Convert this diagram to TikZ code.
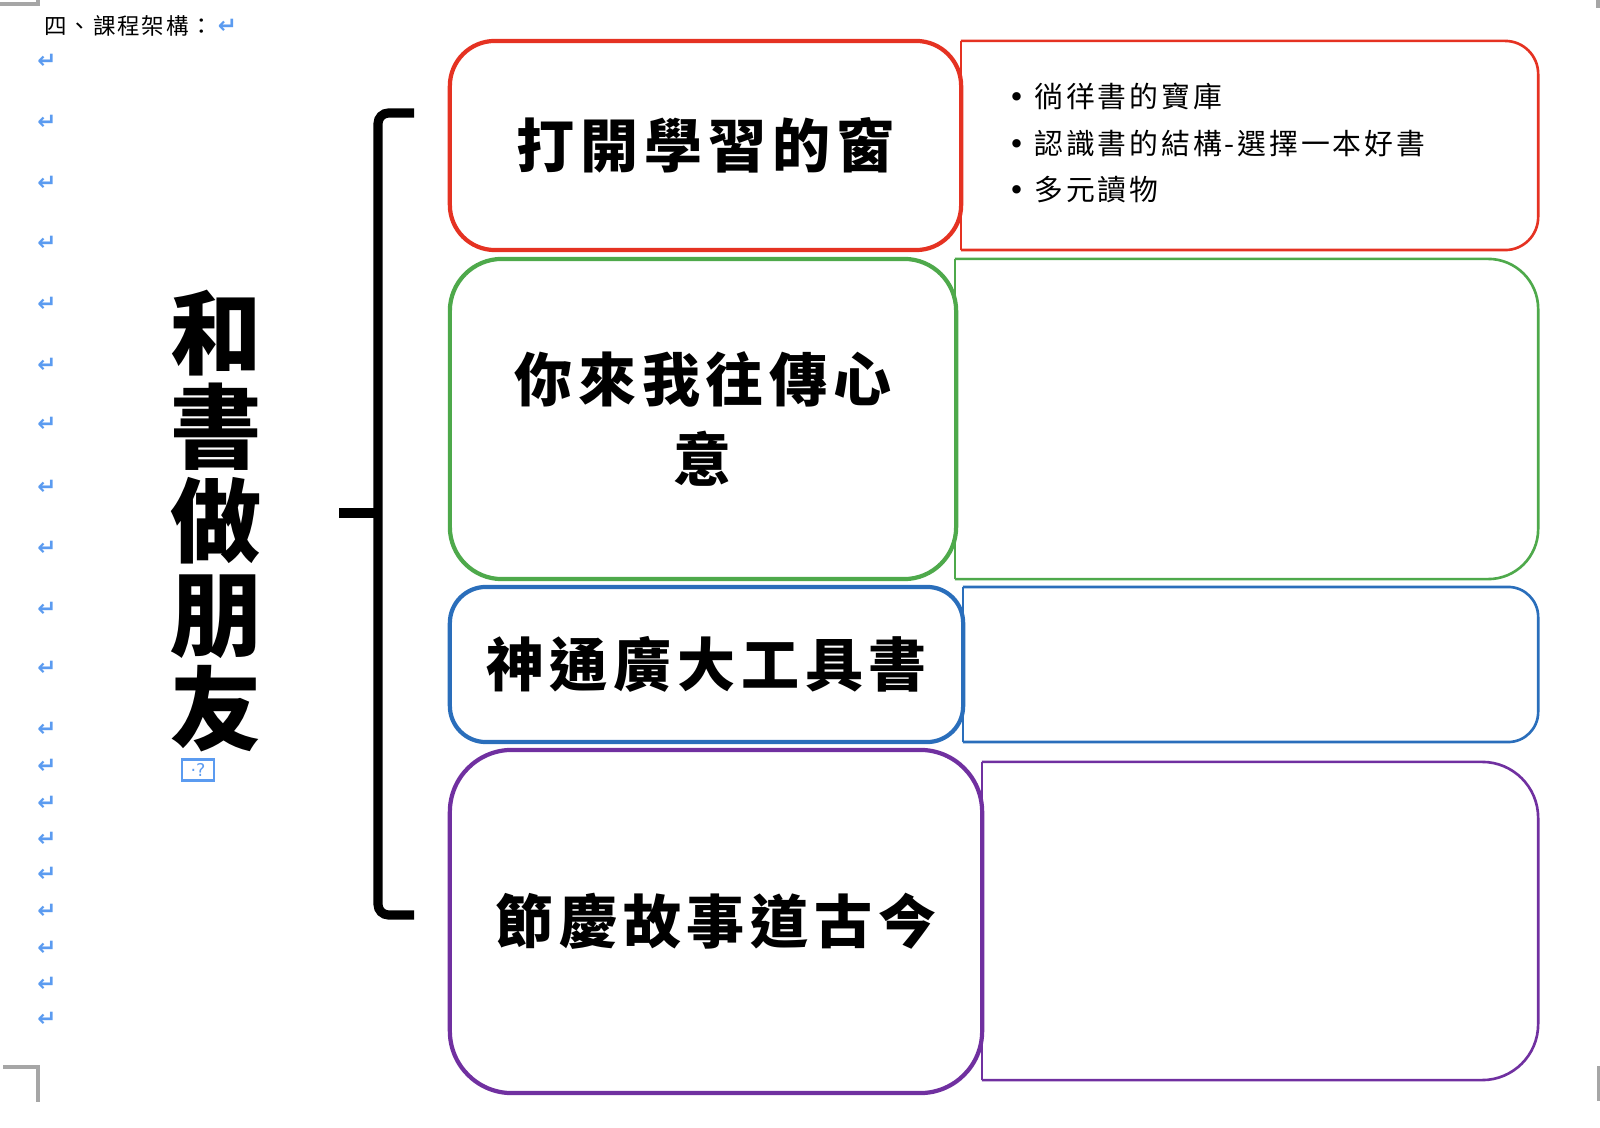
\documentclass[tikz,border=0pt]{standalone}
\usepackage{fontspec}
\newfontfamily\cjk{Noto Sans CJK TC}
\newfontfamily\cjktitle[LetterSpace=10]{Noto Sans CJK TC}
\newfontfamily\cjklist[LetterSpace=10]{Noto Sans CJK TC}
\newfontfamily\cjkhead[LetterSpace=8]{Noto Sans CJK TC}
\newfontfamily\symfont{DejaVu Sans}
\usetikzlibrary{positioning}
\definecolor{RedLine}{HTML}{E53222}
\definecolor{GreenLine}{HTML}{4EA94B}
\definecolor{BlueLine}{HTML}{2A6EBB}
\definecolor{PurpleLine}{HTML}{7030A0}
\definecolor{MarkBlue}{HTML}{5B9BF0}
\definecolor{CropGrey}{HTML}{A6A6A6}
\tikzset{
    % Left topic boxes
    topic/.style={
        rectangle,
        draw=#1,
        line width=1.2pt,
        fill=white,
        text=black,
        align=center,
        font=\cjktitle\bfseries\fontsize{16.5}{22.8}\selectfont
    },
    % Right note boxes (outline drawn separately)
    note/.style={
        rectangle,
        draw=none,
        outer sep=0pt
    },
    note line/.style={
        draw=#1,
        line width=0.75pt
    },
    bullets/.style={
        align=left,
        inner sep=0pt,
        font=\cjklist\fontsize{8.2}{13.1}\selectfont
    },
    theme/.style={
        align=center,
        inner sep=0pt,
        font=\cjk\bfseries\fontsize{26}{26.7}\selectfont
    },
    brace/.style={
        line width=2.6pt,
        rounded corners=3pt
    },
    retmark/.style={
        text=MarkBlue,
        inner sep=0pt,
        font=\symfont\bfseries\fontsize{6.5}{7}\selectfont
    },
    cropmark/.style={
        draw=CropGrey,
        line width=1.2pt
    }
}

\begin{document}
\begin{tikzpicture}[x=0.01cm, y=-0.01cm]
        \useasboundingbox (0,0) rectangle (1600,1128);

        % Page corner marks
        \draw[cropmark] (0,4) -- (38,4) -- (38,0);
        \draw[cropmark] (3,1067) -- (38,1067) -- (38,1102);
        \draw[cropmark] (1598,0) -- (1598,8);
        \draw[cropmark] (1599,1066) -- (1599,1101);

        % Heading and paragraph marks
        \node[anchor=west, inner sep=0pt, font=\cjkhead\fontsize{6.4}{7}\selectfont] (heading) at (44,26) {四、課程架構：};
        \node[retmark, right=1pt of heading] (headret) {↵};
        \foreach \y [count=\i] in {61,122,183,243,304,365,424,487,548,609,668,729,766,803,839,874,911,948,984,1019}
            \node[retmark] (ret\i) at (47,\y) {↵};

        % Vertical theme
        \node[theme] (theme) at (216,521) {和\\書\\做\\朋\\友};
        \node[draw=MarkBlue, line width=0.6pt, minimum width=0.32cm, minimum height=0.21cm, inner sep=0pt,
              text=MarkBlue, font=\symfont\fontsize{5}{5}\selectfont] (pinmark) at (198,770) {·?};

        % Brace
        \draw[brace] (414,113) -- (378,113) -- (378,915) -- (414,915);
        \draw[brace] (378,513) -- (339,513);

        % Topics on the left
        \node[topic=RedLine, rounded corners=0.45cm, minimum width=5.11cm, minimum height=2.09cm] (window) at (705.5,145.5) {打開學習的窗};
        \node[topic=GreenLine, rounded corners=0.52cm, minimum width=5.06cm, minimum height=3.20cm] (share) at (703,419) {你來我往傳心\\意};
        \node[topic=BlueLine, rounded corners=0.36cm, minimum width=5.13cm, minimum height=1.55cm] (tools) at (706.5,664.5) {神通廣大工具書};
        \node[topic=PurpleLine, rounded corners=0.62cm, minimum width=5.32cm, minimum height=3.43cm] (festival) at (716,921.5) {節慶故事道古今};

        % Notes on the right
        \node[note, minimum width=5.77cm, minimum height=2.09cm] (windownote) at (1249.5,145.5) {};
        \node[note, minimum width=5.83cm, minimum height=3.20cm] (sharenote) at (1246.5,419) {};
        \node[note, minimum width=5.75cm, minimum height=1.55cm] (toolsnote) at (1250.5,664.5) {};
        \node[note, minimum width=5.56cm, minimum height=3.18cm] (festivalnote) at (1260,921) {};
        \foreach \n/\c/\r in {windownote/RedLine/0.33cm, sharenote/GreenLine/0.5cm, toolsnote/BlueLine/0.3cm, festivalnote/PurpleLine/0.56cm} {
            \draw[note line=\c] (\n.north west) -- (\n.south west);
            \draw[note line=\c, rounded corners=\r] (\n.north west) -- (\n.north east) -- (\n.south east) -- (\n.south west);
        }

        \node[bullets, anchor=west] (windowlist) at (1008,143)
              {{\symfont •}\hspace{2.5pt}徜徉書的寶庫\\{\symfont •}\hspace{2.5pt}認識書的結構-選擇一本好書\\{\symfont •}\hspace{2.5pt}多元讀物};
    \end{tikzpicture}
\end{document}
